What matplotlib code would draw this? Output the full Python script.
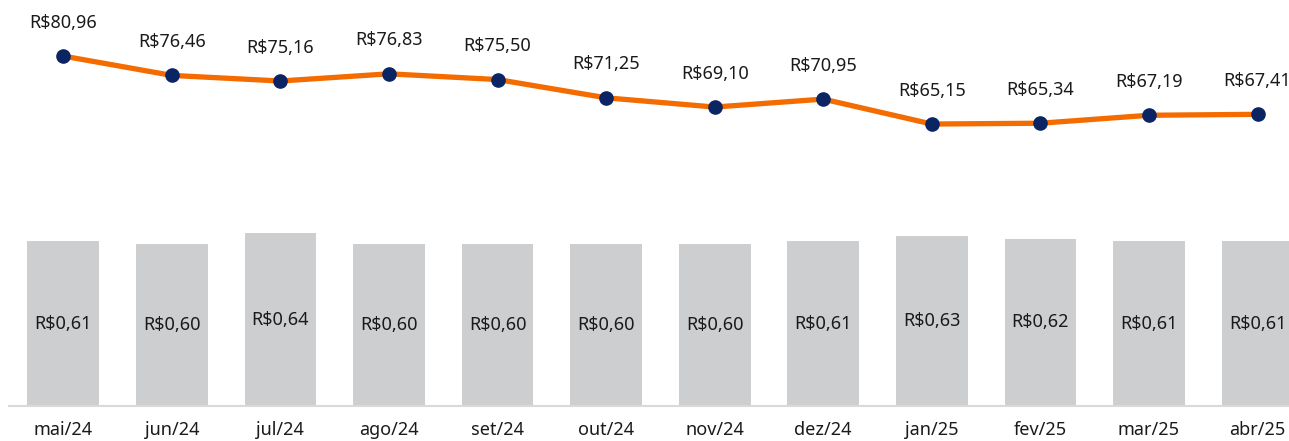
import numpy as np
import matplotlib
matplotlib.use("Agg")
import matplotlib.pyplot as plt

plt.rcParams['font.family'] = ['Noto Sans', 'DejaVu Sans']

meses = ['mai/24', 'jun/24', 'jul/24', 'ago/24', 'set/24', 'out/24',
         'nov/24', 'dez/24', 'jan/25', 'fev/25', 'mar/25', 'abr/25']
preco = [80.96, 76.46, 75.16, 76.83, 75.50, 71.25,
         69.10, 70.95, 65.15, 65.34, 67.19, 67.41]
dividendo = [0.61, 0.60, 0.64, 0.60, 0.60, 0.60,
             0.60, 0.61, 0.63, 0.62, 0.61, 0.61]

def brl(v):
    return 'R$' + f'{v:.2f}'.replace('.', ',')

W, H = 1289, 441
fs = 13
fig = plt.figure(figsize=(W / 100, H / 100), dpi=100)
ax = fig.add_axes([9 / W, (H - 406) / H, 1 - 9 / W, 406 / H])
x = np.arange(len(meses))

ax.bar(x, dividendo, width=0.66, color='#CDCED0', zorder=2)
for xi, v in zip(x, dividendo):
    ax.text(xi, v / 2, brl(v), ha='center', va='center', fontsize=fs, color='#1a1a1a')
ax.set_ylim(0, 406 / 270)
ax.set_xlim(-0.5, 11.29)
ax.set_yticks([])
ax.set_xticks(x)
ax.set_xticklabels(meses, fontsize=fs, color='#1a1a1a')
ax.tick_params(axis='x', length=0, pad=11)
for s in ['top', 'right', 'left']:
    ax.spines[s].set_visible(False)
ax.spines['bottom'].set_color('#D9D9D9')
ax.spines['bottom'].set_linewidth(1.5)

ax2 = ax.twinx()
ax2.plot(x, preco, color='#F46B00', lw=3.8, marker='o', markersize=9.5,
         markerfacecolor='#0B2463', markeredgecolor='#0B2463', zorder=3)
for xi, v in zip(x, preco):
    ax2.annotate(brl(v), (xi, v), xytext=(0, 24), textcoords='offset points',
                 ha='center', va='center', fontsize=fs, color='#1a1a1a')
ax2.set_ylim(-0.43, 94.0)
ax2.set_yticks([])
for s in ['top', 'right', 'left', 'bottom']:
    ax2.spines[s].set_visible(False)

fig.savefig('out.png', dpi=100)
